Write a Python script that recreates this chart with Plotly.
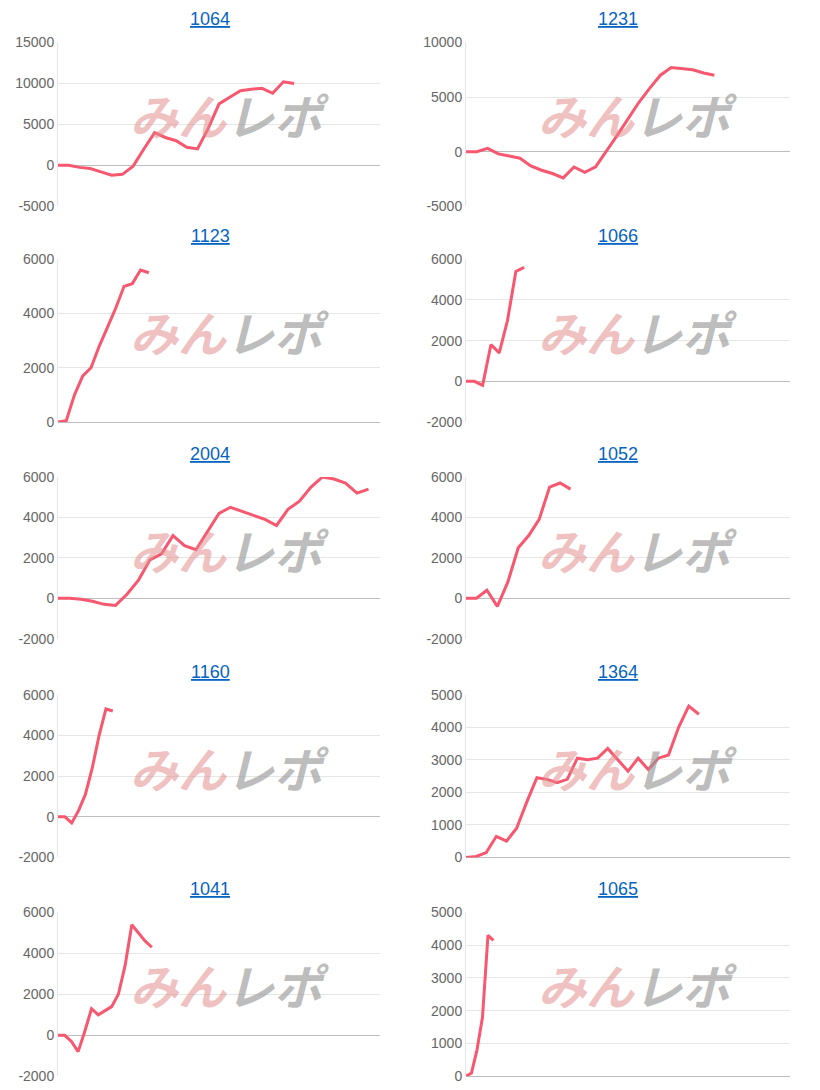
import plotly.graph_objects as go

W, H = 820, 1090

titles = ["1064", "1231", "1123", "1066", "2004", "1052", "1160", "1364", "1041", "1065"]

s1064 = [0, 0, -250, -400, -800, -1200, -1100, -100, 2000, 4000, 3400, 3000, 2200, 2000,
         4500, 7500, 8300, 9100, 9300, 9400, 8800, 10200, 10000]
s1231 = [0, 0, 300, -200, -400, -600, -1300, -1700, -2000, -2400, -1400, -1900, -1400, 0,
         1500, 3000, 4500, 5800, 7000, 7700, 7600, 7500, 7200, 7000]
s1123 = [0, 50, 1000, 1700, 2000, 2800, 3500, 4200, 5000, 5100, 5600, 5500]
s1066 = [0, 0, -200, 1800, 1400, 3000, 5400, 5600]
s2004 = [0, 0, -50, -150, -300, -350, 200, 900, 1900, 2200, 3100, 2600, 2400, 3300, 4200,
         4500, 4300, 4100, 3900, 3600, 4400, 4800, 5500, 6000, 5900, 5700, 5200, 5400]
s1052 = [0, 0, 400, -400, 800, 2500, 3100, 3900, 5500, 5700, 5400]
s1160 = [0, 0, -300, 300, 1100, 2400, 4000, 5300, 5200]
s1364 = [0, 30, 150, 650, 500, 900, 1700, 2450, 2400, 2300, 2400, 3050, 3000, 3050, 3350,
         3000, 2650, 3050, 2700, 3050, 3150, 4000, 4650, 4400]
s1041 = [0, 0, -300, -800, 200, 1300, 1000, 1200, 1400, 2000, 3400, 5400, 5000, 4600, 4300]
s1065 = [0, 100, 800, 1800, 4300, 4150]
series = [s1064, s1231, s1123, s1066, s2004, s1052, s1160, s1364, s1041, s1065]

# number of category slots on each x axis
slots = [31, 31, 40, 40, 29, 32, 48, 33, 49, 60]
yranges = [(-5000, 15000), (-5000, 10000), (0, 6000), (-2000, 6000), (-2000, 6000),
           (-2000, 6000), (-2000, 6000), (0, 5000), (-2000, 6000), (0, 5000)]
ydtick = [5000, 5000, 2000, 2000, 2000, 2000, 2000, 1000, 2000, 1000]

# pixel boxes in the reference: (x0, x1), (ytop, ybottom)
row_y = [(41, 205), (258, 421), (476, 638), (694, 857), (912, 1076)]
col_x = [(58, 380), (466, 790)]


def fy(p):
    # reference pixel -> paper fraction (page offsets compensated)
    q = (p - 14.5) / 0.9865
    return 1 - q / H


def fx(p):
    return (p - 8) / W


fig = go.Figure()
for i, (t, s) in enumerate(zip(titles, series)):
    r, c = divmod(i, 2)
    x0, x1 = col_x[c]
    yt, yb = row_y[r]
    n = "" if i == 0 else str(i + 1)
    lo, hi = yranges[i]
    tv = list(range(lo, hi + 1, ydtick[i]))
    fig.add_trace(go.Scatter(x=list(range(len(s))), y=s, mode="lines",
                             line=dict(color="#f7576f", width=3),
                             xaxis="x" + n, yaxis="y" + n, showlegend=False))
    fig.layout["xaxis" + n] = dict(domain=[fx(x0), fx(x1)], range=[0, slots[i] - 1],
                                   showticklabels=False, showgrid=False, zeroline=False,
                                   anchor="y" + n, fixedrange=True)
    fig.layout["yaxis" + n] = dict(domain=[fy(yb), fy(yt)], range=[lo, hi],
                                   tickvals=tv, ticktext=[str(v) for v in tv],
                                   showgrid=True, gridcolor="#e6e6e6",
                                   zeroline=True, zerolinecolor="#bdbdbd", zerolinewidth=1,
                                   showline=True, linecolor="#e6e6e6",
                                   tickfont=dict(color="#666", size=14), anchor="x" + n)
    fig.add_annotation(x=fx(x0 + 152), y=fy(yt - 23), xref="paper", yref="paper",
                       xanchor="center", yanchor="middle", text="<u>" + t + "</u>",
                       showarrow=False, font=dict(color="#0563c1", size=18))
    # watermark
    fig.add_annotation(x=fx(x0 + 172), y=fy(yt + 72), xref="paper", yref="paper",
                       xanchor="center", yanchor="middle",
                       text="<b><i><span style='color:rgba(225,140,140,0.55)'>みん</span>"
                            "<span style='color:rgba(150,150,150,0.65)'>レポ</span></i></b>",
                       showarrow=False, font=dict(size=48, family="Noto Sans CJK JP"))

fig.update_layout(width=W, height=H, margin=dict(l=0, r=0, t=0, b=0),
                  plot_bgcolor="white", paper_bgcolor="white",
                  font=dict(family="Arial, Liberation Sans"))
fig.write_html("out.html")
